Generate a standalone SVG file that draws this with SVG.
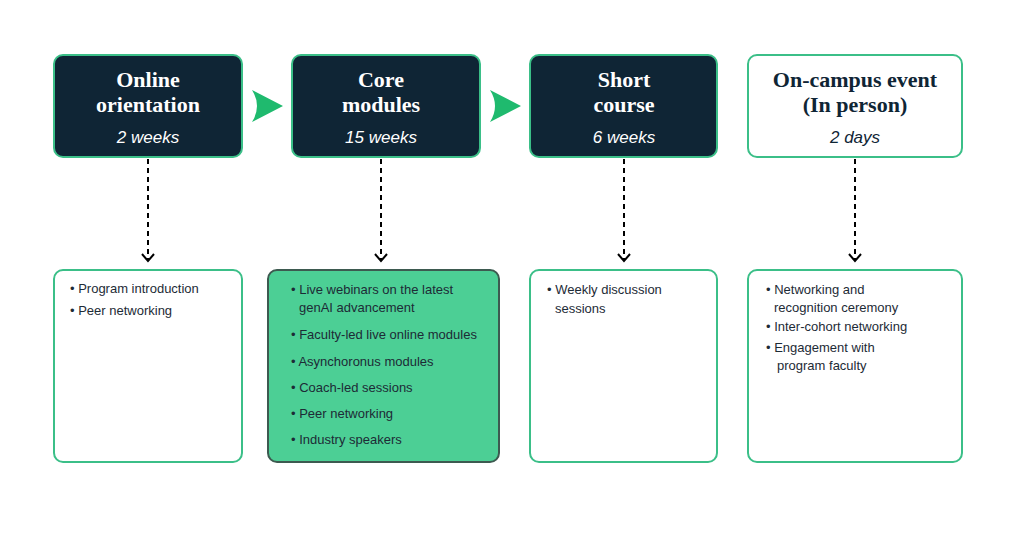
<svg xmlns="http://www.w3.org/2000/svg" width="1024" height="537" viewBox="0 0 1024 537">
<style>
.h{font-family:"Liberation Serif",serif;font-weight:bold;font-size:22px;fill:#fff;text-anchor:middle}
.h2{fill:#0f2535}
.w{font-family:"Liberation Sans",sans-serif;font-style:italic;font-size:17px;fill:#fff;text-anchor:middle}
.t{font-family:"Liberation Sans",sans-serif;font-size:13px;fill:#1d2b36}
.dk{fill:#0f2535;stroke:#3bbf88;stroke-width:2}
.lt{fill:#fff;stroke:#3bbf88;stroke-width:2}
.c{stroke:#000;stroke-width:2;stroke-dasharray:5 4;fill:none}
.ah{stroke:#000;stroke-width:2;fill:none}
</style>
<g id="n1"><rect class="dk" x="54" y="55" width="188" height="102" rx="9"/>
<text class="h" x="148" y="87">Online</text><text class="h" x="148" y="112">orientation</text><text class="w" x="148" y="143">2 weeks</text></g>
<g id="n2"><rect class="dk" x="292" y="55" width="188" height="102" rx="9"/>
<text class="h" x="381" y="87">Core</text><text class="h" x="381" y="112">modules</text><text class="w" x="381" y="143">15 weeks</text></g>
<g id="n3"><rect class="dk" x="530" y="55" width="187" height="102" rx="9"/>
<text class="h" x="624" y="87">Short</text><text class="h" x="624" y="112">course</text><text class="w" x="624" y="143">6 weeks</text></g>
<g id="n4"><rect class="lt" x="748" y="55" width="214" height="102" rx="9"/>
<text class="h h2" x="855" y="87">On-campus event</text><text class="h h2" x="855" y="112">(In person)</text><text class="w" style="fill:#0f2535" x="855" y="143">2 days</text></g>
<g id="b1"><rect class="lt" x="54" y="270" width="188" height="192" rx="9"/>
<text class="t" x="70" y="293">• Program introduction</text><text class="t" x="70" y="315">• Peer networking</text></g>
<g id="b2"><rect x="268" y="270" width="231" height="192" rx="9" fill="#4ccf95" stroke="#3d5a50" stroke-width="2"/>
<text class="t" x="291" y="294">• Live webinars on the latest</text><text class="t" x="299" y="312">genAI advancement</text>
<text class="t" x="291" y="339">• Faculty-led live online modules</text><text class="t" x="291" y="366">• Asynchoronus modules</text>
<text class="t" x="291" y="392">• Coach-led sessions</text><text class="t" x="291" y="418">• Peer networking</text><text class="t" x="291" y="444">• Industry speakers</text></g>
<g id="b3"><rect class="lt" x="530" y="270" width="187" height="192" rx="9"/>
<text class="t" x="547" y="294">• Weekly discussion</text><text class="t" x="555" y="313">sessions</text></g>
<g id="b4"><rect class="lt" x="748" y="270" width="214" height="192" rx="9"/>
<text class="t" x="766" y="294">• Networking and</text><text class="t" x="774" y="312">recognition ceremony</text>
<text class="t" x="766" y="331">• Inter-cohort networking</text><text class="t" x="766" y="352">• Engagement with</text><text class="t" x="777" y="370">program faculty</text></g>
<g id="connectors">
<path d="M252 90 L283 106 L252 122 Q262 106 252 90Z" fill="#1fba6e"/>
<path d="M490 90 L521 106 L490 122 Q500 106 490 90Z" fill="#1fba6e"/>
<path class="c" d="M148 159V259M381 159V259M624 159V259M855 159V259"/>
<path class="ah" d="M142 254l6 7 6-7M375 254l6 7 6-7M618 254l6 7 6-7M849 254l6 7 6-7"/>
</g>
</svg>
